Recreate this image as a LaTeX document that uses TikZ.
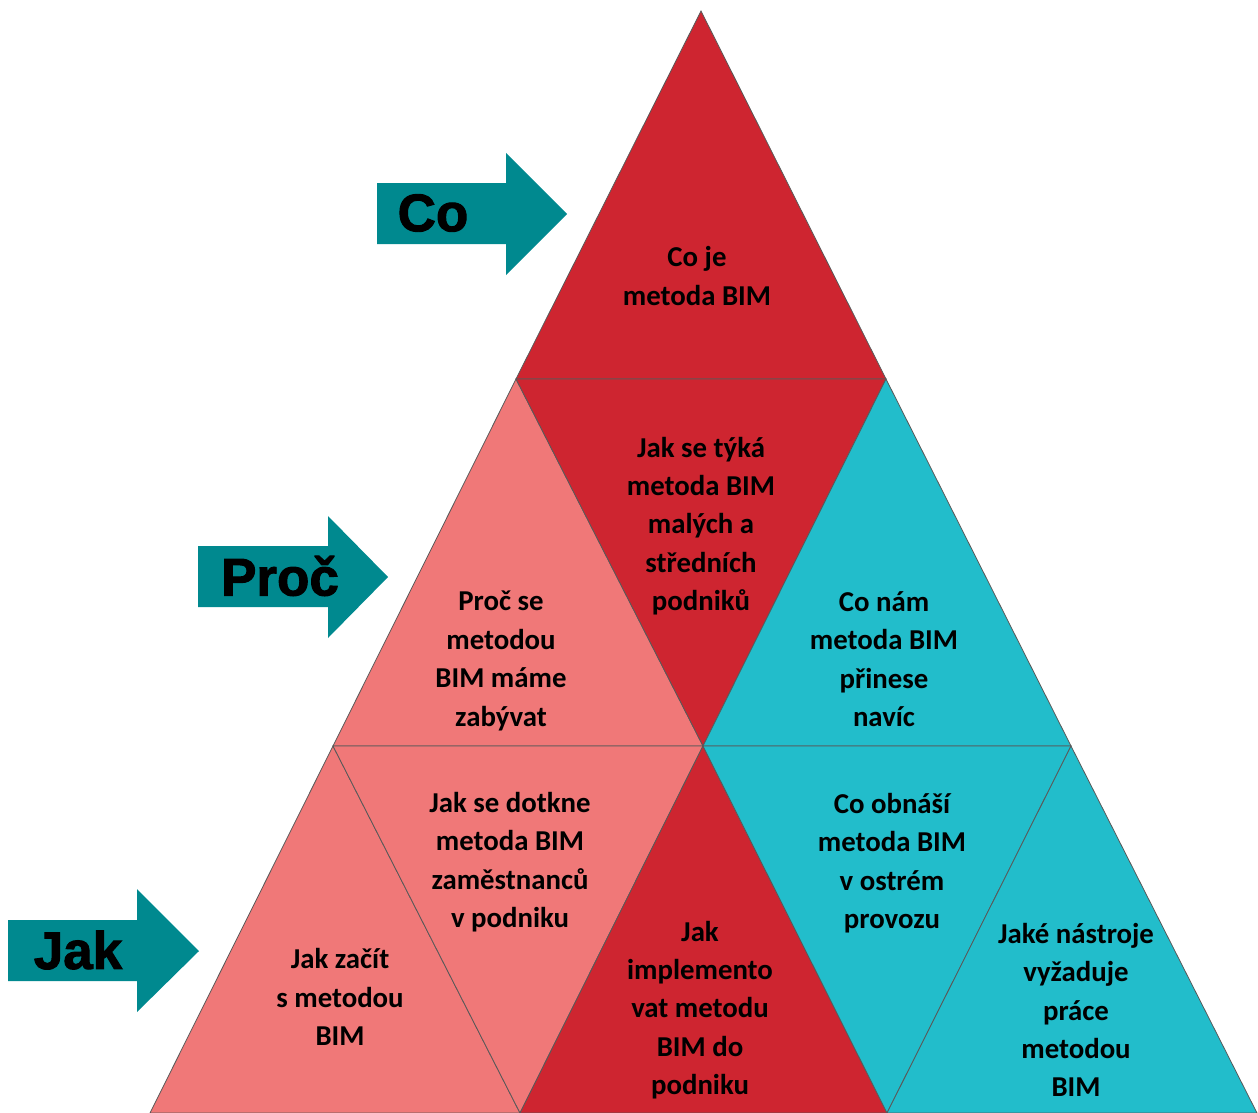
\documentclass[tikz,border=0pt]{standalone}
\usepackage{fontspec}
\setmainfont{Carlito}
\newfontfamily\arrowfont[BoldFont={Liberation Sans Bold}, BoldFeatures={FakeBold=1.8}]{Liberation Sans}
\usetikzlibrary{positioning}
\definecolor{pyrred}{RGB}{206,37,48}
\definecolor{pyrsalmon}{RGB}{240,120,120}
\definecolor{pyrcyan}{RGB}{34,189,203}
\definecolor{arrowteal}{RGB}{0,137,143}
\tikzset{
    tri/.style={draw=black!65, line width=0.4pt, line join=miter},
    redtri/.style={tri, fill=pyrred},
    salmontri/.style={tri, fill=pyrsalmon},
    cyantri/.style={tri, fill=pyrcyan},
    rowarrow/.style={fill=arrowteal},
    arrowlabel/.style={font=\arrowfont\bfseries\fontsize{26.5}{30}\selectfont, text=black}
}

\begin{document}
\begin{tikzpicture}[x=0.5pt, y=-0.5pt, every node/.style={align=center, font=\bfseries\fontsize{14.4}{19.2}\selectfont}]

        \useasboundingbox (0,0) rectangle (1258,1113);

        % Corners of the pyramid grid
        \coordinate (t)  at (701,11);
        \coordinate (a1) at (516,379);
        \coordinate (a2) at (886,379);
        \coordinate (b1) at (333,746);
        \coordinate (b2) at (703,746);
        \coordinate (b3) at (1071,746);
        \coordinate (c1) at (150,1113);
        \coordinate (c2) at (520,1113);
        \coordinate (c3) at (887,1113);
        \coordinate (c4) at (1257,1113);

        % Top row
        \filldraw[redtri] (t) -- (a1) -- (a2) -- cycle;

        % Middle row
        \filldraw[salmontri] (a1) -- (b1) -- (b2) -- cycle;
        \filldraw[redtri] (a1) -- (a2) -- (b2) -- cycle;
        \filldraw[cyantri] (a2) -- (b2) -- (b3) -- cycle;

        % Bottom row
        \filldraw[salmontri] (b1) -- (c1) -- (c2) -- cycle;
        \filldraw[salmontri] (b1) -- (b2) -- (c2) -- cycle;
        \filldraw[redtri] (b2) -- (c2) -- (c3) -- cycle;
        \filldraw[cyantri] (b2) -- (b3) -- (c3) -- cycle;
        \filldraw[cyantri] (b3) -- (c3) -- (c4) -- cycle;

        % Texts in the triangles
        \node (coje) at (697,276) {Co je\\metoda BIM};
        \node (tyka) at (701,526) {Jak se týká\\metoda BIM\\malých a\\středních\\podniků};
        \node (proc) at (501,661) {Proč se\\metodou\\BIM máme\\zabývat};
        \node (prinese) at (884,659) {Co nám\\metoda BIM\\přinese\\navíc};
        \node (zacit) at (340,997) {Jak začít\\s metodou\\BIM};
        \node (dotkne) at (510,862) {Jak se dotkne\\metoda BIM\\zaměstnanců\\v podniku};
        \node (implement) at (700,1010) {Jak\\implemento\\vat metodu\\BIM do\\podniku};
        \node (obnasi) at (892,863) {Co obnáší\\metoda BIM\\v ostrém\\provozu};
        \node (nastroje) at (1076,1010) {Jaké nástroje\\vyžaduje\\práce\\metodou\\BIM};

        % Arrows at the rows
        \fill[rowarrow] (377,183) -- (506,183) -- (506,153) -- (567,214) -- (506,275) -- (506,244) -- (377,244) -- cycle;
        \fill[rowarrow] (198,546) -- (328,546) -- (328,516) -- (388,577) -- (328,638) -- (328,607) -- (198,607) -- cycle;
        \fill[rowarrow] (8,920) -- (137,920) -- (137,889) -- (199,951) -- (137,1012) -- (137,981) -- (8,981) -- cycle;

        \node[arrowlabel] (colabel) at (433,213) {Co};
        \node[arrowlabel] (proclabel) at (280,576) {Proč};
        \node[arrowlabel] (jaklabel) at (78,950) {Jak};

    \end{tikzpicture}
\end{document}
